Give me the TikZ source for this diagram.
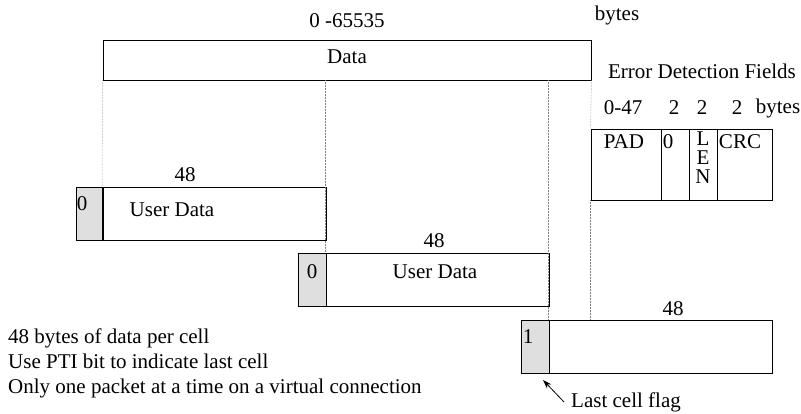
\documentclass[tikz,border=0pt]{standalone}
\usepackage{fontspec}
\setmainfont{Liberation Serif}
\usetikzlibrary{arrows.meta}

\begin{document}
\begin{tikzpicture}[
		x=1pt, y=-1pt,
		font=\fontsize{21}{25}\selectfont,
		fld/.style = {rectangle, draw, line width=0.9pt, inner sep=0},
		hdr/.style = {fld, fill=gray!25},
		lbl/.style = {inner sep=0},
		guide/.style = {densely dotted, gray, line width=0.5pt},
		flagarr/.style = {-{Stealth[length=9pt, width=6pt]}, line width=0.8pt},
		]
		\useasboundingbox (0, 0) rectangle (801, 414);
		
		%Boxes
		\node[fld, minimum width=488, minimum height=40]	(data)	at	(347, 60)	{};
		\node[fld, minimum width=70, minimum height=71]	(pad)	at	(626, 164.5)	{};
		\node[fld, minimum width=28, minimum height=71]	(zero)	at	(675, 164.5)	{};
		\node[fld, minimum width=28, minimum height=71]	(len)	at	(703, 164.5)	{};
		\node[fld, minimum width=55, minimum height=71]	(crc)	at	(744.5, 164.5)	{};
		\node[hdr, minimum width=27, minimum height=53]	(h1)	at	(90, 213.5)	{};
		\node[fld, minimum width=224, minimum height=53]	(u1)	at	(214.5, 213.5)	{};
		\node[hdr, minimum width=28, minimum height=53]	(h2)	at	(312, 279.5)	{};
		\node[fld, minimum width=223, minimum height=53]	(u2)	at	(437.5, 279.5)	{};
		\node[hdr, minimum width=28, minimum height=53]	(h3)	at	(535, 346.5)	{};
		\node[fld, minimum width=223, minimum height=53]	(u3)	at	(660.5, 346.5)	{};
		
		%Labels
		\node[lbl]	(dlen)	at	(347, 21)	{0 -65535};
		\node[lbl]	(dunit)	at	(617, 15)	{bytes};
		\node[lbl]	(dtxt)	at	(347, 57)	{Data};
		\node[lbl]	(edf)	at	(702, 71)	{Error Detection Fields};
		\node[lbl]	(szpad)	at	(623, 108)	{0-47};
		\node[lbl]	(szzero)	at	(674, 108)	{2};
		\node[lbl]	(szlen)	at	(702, 108)	{2};
		\node[lbl]	(szcrc)	at	(737, 108)	{2};
		\node[lbl]	(szunit)	at	(778, 108)	{bytes};
		\node[lbl]	(padtxt)	at	(624, 142)	{PAD};
		\node[lbl]	(zerotxt)	at	(668, 142)	{0};
		\node[lbl]	(lenL)	at	(703, 139)	{L};
		\node[lbl]	(lenE)	at	(703, 158)	{E};
		\node[lbl]	(lenN)	at	(703, 177)	{N};
		\node[lbl]	(crctxt)	at	(740, 142)	{CRC};
		\node[lbl]	(c1bit)	at	(82, 204)	{0};
		\node[lbl]	(c1txt)	at	(172, 210)	{User Data};
		\node[lbl]	(c1len)	at	(185, 175)	{48};
		\node[lbl]	(c2bit)	at	(312, 272)	{0};
		\node[lbl]	(c2txt)	at	(435, 272)	{User Data};
		\node[lbl]	(c2len)	at	(434, 241)	{48};
		\node[lbl]	(c3bit)	at	(528, 337)	{1};
		\node[lbl]	(c3len)	at	(673, 309)	{48};
		\node[lbl]	(lastlbl)	at	(626, 402)	{Last cell flag};
		\node[lbl, align=left, anchor=west]	(notes)	at	(8, 363)	{48 bytes of data per cell\\Use PTI bit to indicate last cell\\Only one packet at a time on a virtual connection};
		\coordinate	(fhead)	at	(543, 380);
		
		%Lines
		\draw[guide]	(data.south west)	--	(u1.north west);
		\draw[guide]	(u2.north west |- data.south)	--	(u2.north west);
		\draw[guide]	(u3.north west |- data.south)	--	(u3.north west);
		\draw[guide]	(data.south east)	--	(pad.north west);
		\draw[guide]	(pad.south west)	--	(pad.south west |- u3.north);
		\draw[flagarr]	([xshift=-7]lastlbl.west)	--	(fhead);
		
	\end{tikzpicture}
\end{document}
